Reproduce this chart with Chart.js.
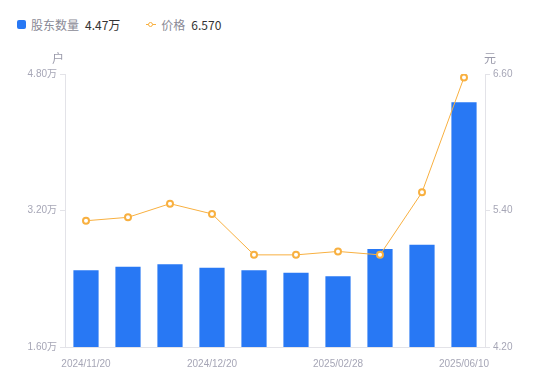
<!DOCTYPE html>
<html>
<head>
<meta charset="utf-8">
<script src="https://cdn.jsdelivr.net/npm/chart.js@4/dist/chart.umd.min.js"></script>
<style>
  html, body { margin: 0; padding: 0; background: #fff; }
  #wrap { position: relative; width: 550px; height: 381px; }
  #legend { position: absolute; left: 17px; top: 16px; font: 12px "Noto Sans CJK SC", "Liberation Sans", sans-serif; display: flex; align-items: center; }
  .item { display: flex; align-items: center; margin-right: 26px; }
  .name { color: #8a8a96; margin-right: 6px; }
  .val { color: #333; }
  .box { width: 9px; height: 9px; border-radius: 2px; background: #2878f4; margin-right: 5px; }
  .mark { position: relative; width: 10px; height: 10px; margin-right: 5px; }
  .mark:before { content: ""; position: absolute; left: 0; right: 0; top: 4px; height: 1.5px; background: #f8b040; }
  .mark:after { content: ""; position: absolute; left: 2px; top: 2px; width: 3px; height: 3px; border: 1.5px solid #f8b040; border-radius: 50%; background: #fff; }
  canvas { position: absolute; left: 0; top: 0; }
</style>
</head>
<body>
<div id="wrap">
  <div id="legend">
    <div class="item"><span class="box"></span><span class="name">股东数量</span><span class="val">4.47万</span></div>
    <div class="item"><span class="mark"></span><span class="name">价格</span><span class="val">6.570</span></div>
  </div>
  <canvas id="chart" width="550" height="381"></canvas>
</div>
<script>
// x 轴日期（只显示其中四个）
const dates = ['2024/11/20', '', '', '2024/12/20', '', '', '2025/02/28', '', '', '2025/06/10'];
// 股东数量（万户）
const holders = [2.50, 2.54, 2.57, 2.53, 2.50, 2.47, 2.43, 2.75, 2.80, 4.47];
// 价格（元）
const prices = [5.31, 5.34, 5.46, 5.37, 5.01, 5.01, 5.04, 5.01, 5.56, 6.57];
// 轴刻度
const holderTicks = [1.6, 3.2, 4.8];
const priceTicks = [4.2, 5.4, 6.6];

const BLUE = '#2878f4';
const ORANGE = '#f8b040';
const AXIS = '#e3e3e8';
const TICKTXT = '#a6a6b6';
const FONT = '"Liberation Sans", "Noto Sans CJK SC", sans-serif';

// 画单位 户 / 元
const unitPlugin = {
    id: 'units',
    afterDraw(chart) {
        const ctx = chart.ctx;
        const area = chart.chartArea;
        ctx.save();
        ctx.fillStyle = '#9a9aaa';
        ctx.font = '12px "Noto Sans CJK SC", sans-serif';
        ctx.textAlign = 'center';
        ctx.textBaseline = 'middle';
        ctx.fillText('户', area.left - 7, area.top - 16);
        ctx.fillText('元', area.right + 5, area.top - 16);
        ctx.restore();
    }
};

const data = {
    labels: dates,
    datasets: [
        {
            type: 'line',
            label: '价格',
            data: prices,
            yAxisID: 'y1',
            borderColor: ORANGE,
            borderWidth: 1,
            pointRadius: 3,
            pointBorderWidth: 2,
            pointBackgroundColor: '#fff',
            pointBorderColor: ORANGE,
            tension: 0,
            order: 0
        },
        {
            type: 'bar',
            label: '股东数量',
            data: holders,
            yAxisID: 'y',
            backgroundColor: BLUE,
            categoryPercentage: 0.6,
            barPercentage: 1,
            order: 1
        }
    ]
};

const options = {
    responsive: false,
    animation: false,
    layout: { padding: { top: 74, left: 0, right: 0, bottom: 0 } },
    plugins: { legend: { display: false }, tooltip: { enabled: false } },
    scales: {
        x: {
            grid: { display: false },
            border: { display: true, color: AXIS },
            ticks: { autoSkip: false, maxRotation: 0, color: TICKTXT, font: { family: FONT, size: 10 }, padding: 3 },
            afterFit(s) { s.height = 34; }
        },
        y: {
            position: 'left',
            min: holderTicks[0],
            max: holderTicks[holderTicks.length - 1],
            afterBuildTicks(s) { s.ticks = holderTicks.map(v => ({ value: v })); },
            grid: { drawOnChartArea: false, drawTicks: true, tickLength: 5, color: AXIS },
            border: { display: true, color: AXIS },
            ticks: { color: TICKTXT, font: { family: FONT, size: 10 }, padding: 3, callback: v => v.toFixed(2) + '万' },
            afterFit(s) { s.width = 65; }
        },
        y1: {
            position: 'right',
            min: priceTicks[0],
            max: priceTicks[priceTicks.length - 1],
            afterBuildTicks(s) { s.ticks = priceTicks.map(v => ({ value: v })); },
            grid: { drawOnChartArea: false, drawTicks: true, tickLength: 5, color: AXIS },
            border: { display: true, color: AXIS },
            ticks: { color: TICKTXT, font: { family: FONT, size: 10 }, padding: 3, callback: v => v.toFixed(2) },
            afterFit(s) { s.width = 65; }
        }
    }
};

new Chart('chart', { data, options, plugins: [unitPlugin] });
</script>
</body>
</html>
